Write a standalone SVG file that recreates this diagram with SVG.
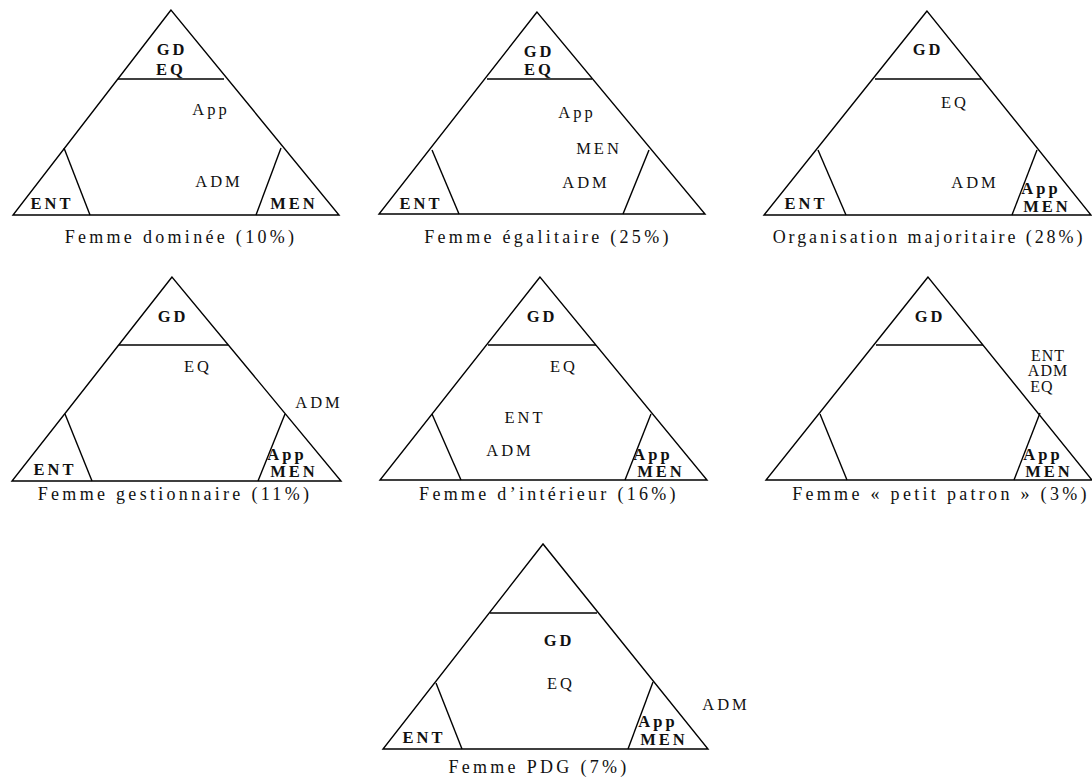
<svg xmlns="http://www.w3.org/2000/svg" width="1092" height="784" viewBox="0 0 1092 784">
  <style>
    .tri { fill: none; stroke: #000; stroke-width: 1.4; stroke-linejoin: miter; }
    .cut { fill: none; stroke: #000; stroke-width: 1.4; }
    text { font-family: "Liberation Serif", "Times New Roman", serif; fill: #111; text-anchor: middle; }
    .lbl { font-size: 16.5px; letter-spacing: 3px; }
    .b { font-weight: bold; }
    .tight { font-size: 16px; letter-spacing: 1px; }
    .cap { font-size: 18px; letter-spacing: 3.3px; }
    .cap-wide { letter-spacing: 2.9px; }
  </style>
  <rect width="1092" height="784" fill="#fff"/>

  <!-- Femme dominée -->
  <g id="femme-dominee">
    <polygon class="tri" points="171,10 13,215 339,215"/>
    <line class="cut" x1="118" y1="79" x2="224" y2="79"/>
    <line class="cut" x1="64" y1="148" x2="90" y2="215"/>
    <line class="cut" x1="281" y1="148" x2="256" y2="215"/>
    <text class="lbl b" x="172" y="55">GD</text>
    <text class="lbl b" x="171" y="75">EQ</text>
    <text class="lbl" x="211" y="115">App</text>
    <text class="lbl" x="219" y="187">ADM</text>
    <text class="lbl b" x="52" y="209">ENT</text>
    <text class="lbl b" x="294" y="209">MEN</text>
    <text class="cap" x="181" y="243">Femme dominée (10%)</text>
  </g>

  <!-- Femme égalitaire -->
  <g id="femme-egalitaire">
    <polygon class="tri" points="537,12 379,214 705,214"/>
    <line class="cut" x1="487" y1="79" x2="592" y2="79"/>
    <line class="cut" x1="432" y1="150" x2="459" y2="214"/>
    <line class="cut" x1="649" y1="150" x2="623" y2="214"/>
    <text class="lbl b" x="539" y="57">GD</text>
    <text class="lbl b" x="539" y="75">EQ</text>
    <text class="lbl" x="577" y="118">App</text>
    <text class="lbl" x="599" y="154">MEN</text>
    <text class="lbl" x="586" y="188">ADM</text>
    <text class="lbl b" x="421" y="209">ENT</text>
    <text class="cap" x="548" y="243">Femme égalitaire (25%)</text>
  </g>

  <!-- Organisation majoritaire -->
  <g id="organisation-majoritaire">
    <polygon class="tri" points="927,11 764,215 1091,215"/>
    <line class="cut" x1="875" y1="79" x2="981" y2="79"/>
    <line class="cut" x1="818" y1="150" x2="846" y2="215"/>
    <line class="cut" x1="1037" y1="150" x2="1012" y2="215"/>
    <text class="lbl b" x="928" y="55">GD</text>
    <text class="lbl" x="955" y="108">EQ</text>
    <text class="lbl" x="975" y="188">ADM</text>
    <text class="lbl b" x="1041" y="194">App</text>
    <text class="lbl b" x="1047" y="212">MEN</text>
    <text class="lbl b" x="806" y="209">ENT</text>
    <text class="cap cap-wide" x="929" y="243">Organisation majoritaire (28%)</text>
  </g>

  <!-- Femme gestionnaire -->
  <g id="femme-gestionnaire">
    <polygon class="tri" points="172,277 12,481 341,481"/>
    <line class="cut" x1="119" y1="345" x2="228" y2="345"/>
    <line class="cut" x1="65" y1="414" x2="92" y2="481"/>
    <line class="cut" x1="285" y1="414" x2="258" y2="481"/>
    <text class="lbl b" x="173" y="322">GD</text>
    <text class="lbl" x="198" y="372">EQ</text>
    <text class="lbl" x="319" y="408">ADM</text>
    <text class="lbl b" x="287" y="460">App</text>
    <text class="lbl b" x="294" y="477">MEN</text>
    <text class="lbl b" x="55" y="475">ENT</text>
    <text class="cap" x="175" y="500">Femme gestionnaire (11%)</text>
  </g>

  <!-- Femme d'intérieur -->
  <g id="femme-interieur">
    <polygon class="tri" points="540,277 380,480 707,480"/>
    <line class="cut" x1="488" y1="345" x2="596" y2="345"/>
    <line class="cut" x1="432" y1="414" x2="461" y2="480"/>
    <line class="cut" x1="651" y1="414" x2="625" y2="480"/>
    <text class="lbl b" x="542" y="322">GD</text>
    <text class="lbl" x="564" y="372">EQ</text>
    <text class="lbl" x="525" y="423">ENT</text>
    <text class="lbl" x="510" y="456">ADM</text>
    <text class="lbl b" x="653" y="460">App</text>
    <text class="lbl b" x="661" y="477">MEN</text>
    <text class="cap" x="549" y="500">Femme d’intérieur (16%)</text>
  </g>

  <!-- Femme « petit patron » -->
  <g id="femme-petit-patron">
    <polygon class="tri" points="928,277 766,480 1092,480"/>
    <line class="cut" x1="876" y1="345" x2="983" y2="345"/>
    <line class="cut" x1="820" y1="414" x2="847" y2="480"/>
    <line class="cut" x1="1040" y1="413" x2="1014" y2="480"/>
    <text class="lbl b" x="930" y="322">GD</text>
    <text class="lbl tight" x="1048" y="360.5">ENT</text>
    <text class="lbl tight" x="1048" y="376">ADM</text>
    <text class="lbl tight" x="1042" y="392">EQ</text>
    <text class="lbl b" x="1043" y="460">App</text>
    <text class="lbl b" x="1049" y="477">MEN</text>
    <text class="cap" x="941" y="500">Femme « petit patron » (3%)</text>
  </g>

  <!-- Femme PDG -->
  <g id="femme-pdg">
    <polygon class="tri" points="543,544 383,749 708,749"/>
    <line class="cut" x1="490" y1="613" x2="597" y2="613"/>
    <line class="cut" x1="436" y1="683" x2="462" y2="749"/>
    <line class="cut" x1="653" y1="682" x2="628" y2="749"/>
    <text class="lbl b" x="559" y="646">GD</text>
    <text class="lbl" x="561" y="689">EQ</text>
    <text class="lbl" x="726" y="710">ADM</text>
    <text class="lbl b" x="658" y="727">App</text>
    <text class="lbl b" x="664" y="745">MEN</text>
    <text class="lbl b" x="424" y="743">ENT</text>
    <text class="cap" x="539" y="773">Femme PDG (7%)</text>
  </g>
</svg>
